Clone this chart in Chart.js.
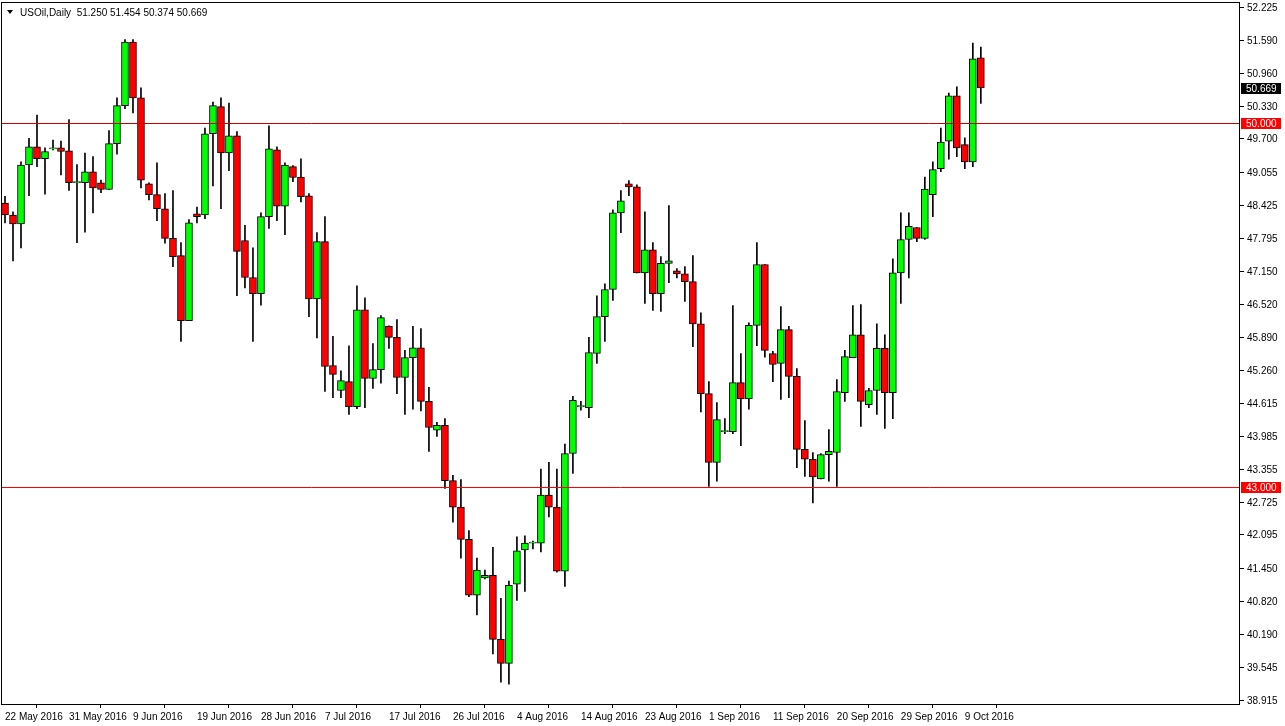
<!DOCTYPE html>
<html><head><meta charset="utf-8">
<script src="https://cdn.jsdelivr.net/npm/chart.js@4/dist/chart.umd.min.js"></script>
<style>html,body{margin:0;padding:0;background:#fff;overflow:hidden}#w{width:1285px;height:726px;position:relative}</style>
</head><body><div id="w"><canvas id="c"></canvas></div>
<script>
const tickLabels=["22 May 2016","31 May 2016","9 Jun 2016","19 Jun 2016","28 Jun 2016","7 Jul 2016","17 Jul 2016","26 Jul 2016","4 Aug 2016","14 Aug 2016","23 Aug 2016","1 Sep 2016","11 Sep 2016","20 Sep 2016","29 Sep 2016","9 Oct 2016"];
const priceTicks=[52.225,51.590,50.960,50.330,49.700,49.055,48.425,47.795,47.150,46.520,45.890,45.260,44.615,43.985,43.355,42.725,42.095,41.450,40.820,40.190,39.545,38.915];
const opens=[48.46,48.23,48.06,49.19,49.54,49.31,49.5,49.52,49.46,48.85,48.85,49.06,48.85,48.72,49.6,50.33,51.55,50.48,48.83,48.62,48.35,47.78,47.45,46.2,48.25,48.23,49.79,50.31,49.42,49.75,47.74,47.03,46.72,48.2,49.48,48.4,49.16,48.96,48.6,46.62,47.72,45.34,44.86,45.03,44.55,46.41,45.09,45.26,46.09,45.88,45.11,45.49,45.68,44.65,44.1,44.19,43.13,42.62,42.0,40.93,41.26,41.31,40.08,39.62,41.14,41.8,41.93,41.93,42.85,42.62,41.39,43.65,44.55,44.53,45.57,46.28,46.8,48.27,48.83,48.77,47.12,47.56,46.72,47.3,47.16,47.1,46.95,46.14,44.8,43.48,44.07,44.07,45.01,44.7,46.11,47.28,45.57,45.38,46.03,45.13,43.73,43.54,43.16,43.63,43.67,44.82,45.49,45.93,44.59,44.86,45.67,44.82,47.12,47.76,47.99,47.78,48.62,49.12,49.65,50.52,49.58,49.25,51.25];
const highs=[48.59,48.29,49.25,49.7,50.15,49.52,49.67,49.65,50.06,49.2,49.42,49.35,48.9,49.85,50.48,51.6,51.6,50.67,48.85,49.23,48.64,48.7,47.7,48.14,48.38,49.9,50.4,50.48,50.38,49.83,48.03,47.6,48.27,49.94,49.54,49.23,49.18,49.31,48.64,47.89,48.2,45.9,45.24,45.72,46.87,46.64,45.76,46.3,46.1,46.22,45.63,46.09,46.05,44.92,44.25,44.32,43.23,43.15,42.17,41.64,41.41,41.85,40.87,41.2,42.05,42.07,41.97,43.35,43.48,43.35,43.83,44.75,44.65,45.88,46.68,46.91,48.33,48.7,48.89,48.81,48.29,47.7,47.43,48.41,47.2,47.24,47.45,46.35,45.03,44.63,44.32,46.49,45.57,46.16,47.7,47.28,45.61,46.47,46.09,45.28,44.28,43.67,43.65,44.11,45.07,45.63,46.49,46.51,44.9,46.14,45.93,47.39,48.27,48.27,47.99,48.96,49.25,49.9,50.57,50.69,49.71,51.53,51.454];
const lows=[48.08,47.35,47.6,48.6,49.16,48.63,49.48,49.0,48.7,47.7,47.9,48.27,48.66,48.72,49.4,50.27,50.19,48.75,48.52,48.12,47.69,47.24,45.8,46.2,48.08,48.16,48.79,48.35,49.08,46.68,46.83,45.8,46.5,47.97,48.12,47.85,48.87,48.48,46.28,45.87,44.84,44.72,44.72,44.4,44.51,44.53,44.9,45.0,45.67,44.8,44.4,44.5,44.47,43.69,43.98,42.98,42.33,41.64,40.9,40.55,41.24,39.8,39.26,39.22,40.83,41.0,41.82,41.76,42.43,41.37,41.1,43.27,44.48,44.34,45.38,45.8,46.59,47.89,48.6,47.12,46.53,46.4,46.38,46.93,47.02,46.57,45.7,44.45,43.02,43.12,44.03,44.03,43.8,44.5,45.72,45.5,45.03,44.69,44.72,43.38,43.21,42.7,43.16,43.12,43.02,44.65,45.49,44.17,44.53,44.4,44.13,44.32,46.53,47.02,47.72,47.76,48.2,49.06,49.3,49.35,49.12,49.16,50.374];
const closes=[48.23,48.06,49.19,49.54,49.31,49.45,49.52,49.45,48.85,48.87,49.06,48.75,48.72,49.6,50.33,51.55,50.48,48.9,48.62,48.35,47.78,47.43,46.2,48.08,48.2,49.79,50.33,49.42,49.75,47.53,47.03,46.72,48.2,49.5,48.4,49.19,48.95,48.58,46.62,47.72,45.32,45.17,45.05,44.55,46.41,45.09,45.26,46.26,45.88,45.11,45.49,45.68,44.65,44.15,44.19,43.13,42.62,42.0,40.93,41.41,41.31,40.08,39.62,41.12,41.78,41.93,41.95,42.85,42.62,41.39,43.65,44.67,44.57,45.59,46.28,46.8,48.27,48.5,48.77,47.12,47.56,46.72,47.3,47.35,47.1,46.95,46.14,44.8,43.48,44.3,44.09,45.01,44.7,46.11,47.28,45.63,45.36,46.03,45.13,43.73,43.54,43.2,43.63,43.69,44.84,45.51,45.93,44.65,44.86,45.67,44.82,47.12,47.76,48.01,47.78,48.73,49.1,49.63,50.52,49.52,49.25,51.23,50.669];
const levels=[{v:50.0,line:'#cc0000',box:'#ff0000',txt:'#fff',label:'50.000'},{v:43.0,line:'#ff0000',box:'#ff0000',txt:'#fff',label:'43.000'},{v:50.669,line:null,box:'#000',txt:'#fff',label:'50.669'}];
const header='USOil,Daily  51.250 51.454 50.374 50.669';

const wicks=opens.map((o,i)=>({x:i,y:[lows[i],highs[i]]}));
const bodies=opens.map((o,i)=>({x:i,y:[o,closes[i]]}));
const bodyCol=opens.map((o,i)=>closes[i]>o?'#00ff00':(closes[i]<o?'#ff0000':'#000'));
const FONT='"Liberation Sans", Arial, sans-serif';

const deco={id:'deco',
 afterDraw(ch){const {ctx,chartArea:a,scales:{y}}=ch;ctx.save();
  levels.forEach(l=>{if(!l.line)return;const py=Math.round(y.getPixelForValue(l.v))+0.5;ctx.strokeStyle=l.line;ctx.lineWidth=1;ctx.beginPath();ctx.moveTo(a.left+1,py);ctx.lineTo(a.right-1,py);ctx.stroke();});
  ctx.strokeStyle='#000';ctx.lineWidth=1;ctx.strokeRect(a.left+0.5,a.top+0.5,a.right-a.left-1,a.bottom-a.top);
  ctx.font='10px '+FONT;ctx.textBaseline='middle';ctx.fillStyle='#000';
  priceTicks.forEach(v=>{const py=Math.round(y.getPixelForValue(v));ctx.fillRect(a.right,py,4,1);ctx.textAlign='left';ctx.fillText(v.toFixed(3),a.right+7,py+1);});
  levels.forEach(l=>{const py=Math.round(y.getPixelForValue(l.v));ctx.fillStyle=l.box;ctx.fillRect(a.right+1,py-5,40,11);ctx.fillStyle=l.txt;ctx.textAlign='left';ctx.fillText(l.label,a.right+6,py+1);});
  ctx.fillStyle='#000';ctx.beginPath();ctx.moveTo(7,10);ctx.lineTo(13,10);ctx.lineTo(10,14);ctx.closePath();ctx.fill();
  ctx.textAlign='left';ctx.fillText(header,20,13);
  ctx.restore();}};

new Chart(document.getElementById('c'),{
 type:'bar',
 data:{datasets:[
  {data:bodies,backgroundColor:bodyCol,borderColor:'#000',borderWidth:1,borderSkipped:false,barThickness:7,grouped:false,order:1,minBarLength:1},
  {data:wicks,backgroundColor:'#000',borderWidth:0,barThickness:1,grouped:false,order:2}
 ]},
 options:{responsive:true,maintainAspectRatio:false,animation:false,
  layout:{padding:{top:2,left:1,right:0,bottom:0}},
  plugins:{legend:{display:false},tooltip:{enabled:false}},
  scales:{
   x:{type:'linear',min:-0.5,max:154.4,offset:false,
    afterBuildTicks(s){s.ticks=tickLabels.map((t,i)=>({value:i*8}));},
    afterFit(s){s.height=22;},
    grid:{display:true,drawOnChartArea:false,tickLength:4,color:'#000'},border:{display:false},
    ticks:{autoSkip:false,maxRotation:0,align:'start',padding:3,color:'#000',font:{family:FONT,size:10},callback:(v)=>tickLabels[Math.round(v/8)]||''}},
   y:{position:'right',min:38.84,max:52.32,
    afterBuildTicks(s){s.ticks=priceTicks.map(v=>({value:v}));},
    afterFit(s){s.width=45;},
    grid:{display:false},border:{display:false},
    ticks:{display:false}}
  }},
 plugins:[deco]});
</script></body></html>
